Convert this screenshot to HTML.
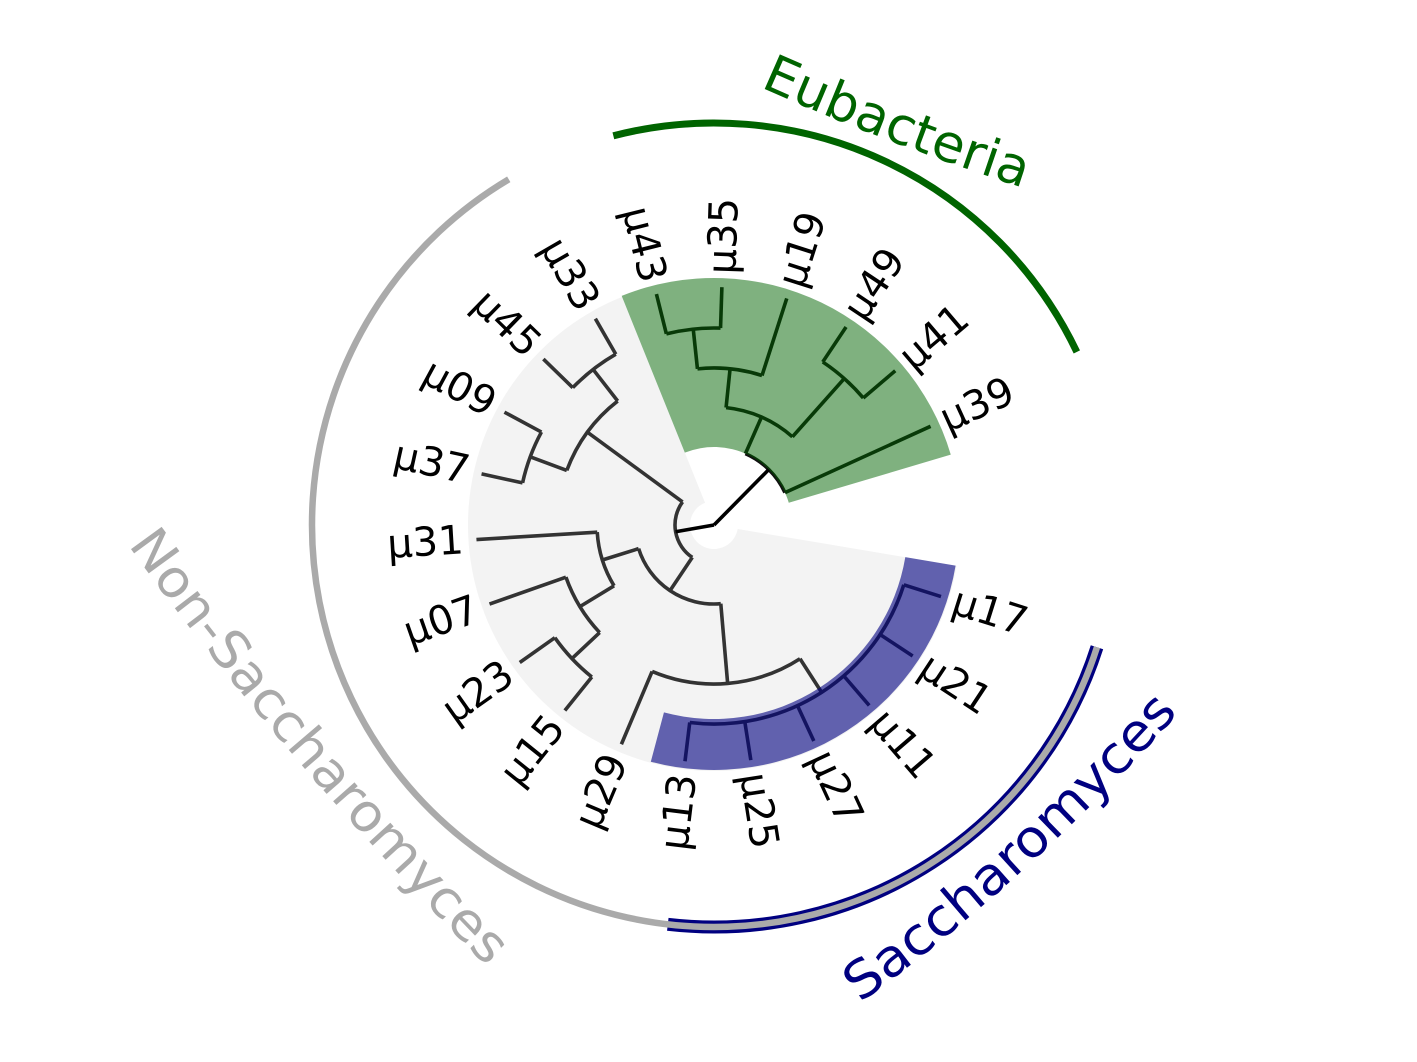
<!DOCTYPE html>
<html>
<head>
<meta charset="utf-8">
<style>
html,body{margin:0;padding:0;background:#fff;}
svg{display:block;}
text{font-family:"DejaVu Sans","Liberation Sans",sans-serif;}
</style>
</head>
<body>
<svg id="chart" width="1417" height="1062" viewBox="0 0 1417 1062" xmlns="http://www.w3.org/2000/svg">
  <g id="bg"></g>
  <g id="tree"></g>
  <g id="hl"></g>
  <g id="labels"></g>
  <g id="groups"></g>
  <defs>
    <path id="p-eub" d="M760,87 Q893,146 1030,190"/>
    <path id="p-non" d="M128,545 Q290,770 520,1000"/>
    <path id="p-sac" d="M860,1003 Q1037,874 1190,700"/>
  </defs>
  <text font-size="52" fill="#006400"><textPath href="#p-eub" textLength="282" lengthAdjust="spacingAndGlyphs">Eubacteria</textPath></text>
  <text font-size="52" fill="#aaaaaa"><textPath href="#p-non" textLength="555" lengthAdjust="spacingAndGlyphs">Non-Saccharomyces</textPath></text>
  <text font-size="52" fill="#000080"><textPath href="#p-sac" textLength="432" lengthAdjust="spacingAndGlyphs">Saccharomyces</textPath></text>
</svg>
<script>
// ---- data ----
const tipLabels = ['μ17','μ21','μ11','μ27','μ25','μ13','μ29','μ15','μ23','μ07','μ31','μ37','μ09','μ45','μ33','μ43','μ35','μ19','μ49','μ41','μ39'];
const nodeIds = ['sac','n5','n78','n4','n3','n2','n1112','n1314','n1','nn','n1516','n17','n1819','nc','eub','root'];
const nodeChildren = [
  [0,1,2,3,4,5], ['sac',6], [7,8], ['n78',9], ['n4',10], ['n5','n3'],
  [11,12], [13,14], ['n1112','n1314'], ['n2','n1'],
  [15,16], ['n1516',17], [18,19], ['n17','n1819'], ['nc',20], ['nn','eub']
];
const nodeHeights = [39,79,43,81,121,159,42,41,81,199,41,81,42,120,160,238];
const maxHeight = 238;

// ---- scales ----
const CX = 714, CY = 525, R_TIP = 238;
const A0 = 17.5, A_STEP = 15.9;
const rScale = h => R_TIP * (1 - h / maxHeight);
const aScale = i => A0 + A_STEP * i;
const rad = a => a * Math.PI / 180;
const pt = (r, a) => [CX + r * Math.cos(rad(a)), CY + r * Math.sin(rad(a))];
const NS = 'http://www.w3.org/2000/svg';

function arcPath(r, a1, a2) {
  const [x1, y1] = pt(r, a1), [x2, y2] = pt(r, a2);
  const large = Math.abs(a2 - a1) > 180 ? 1 : 0;
  const sweep = a2 > a1 ? 1 : 0;
  return `M${x1},${y1} A${r},${r} 0 ${large} ${sweep} ${x2},${y2}`;
}
function sectorPath(r1, r2, a1, a2) {
  const [x1, y1] = pt(r2, a1), [x2, y2] = pt(r2, a2);
  const [x3, y3] = pt(r1, a2), [x4, y4] = pt(r1, a1);
  const large = (a2 - a1) > 180 ? 1 : 0;
  return `M${x1},${y1} A${r2},${r2} 0 ${large} 1 ${x2},${y2} L${x3},${y3} A${r1},${r1} 0 ${large} 0 ${x4},${y4} Z`;
}
function mk(tag, attrs, parent) {
  const el = document.createElementNS(NS, tag);
  for (const k in attrs) el.setAttribute(k, attrs[k]);
  parent.appendChild(el);
  return el;
}

// ---- node layout ----
const info = {};
for (let i = 0; i < tipLabels.length; i++) info[i] = { a: aScale(i), r: R_TIP };
function lay(id) {
  if (info[id]) return info[id];
  const k = nodeIds.indexOf(id);
  const ch = nodeChildren[k].map(c => lay(c));
  const angs = ch.map(c => c.a);
  const a = (Math.min(...angs) + Math.max(...angs)) / 2;
  info[id] = { a: a, r: rScale(nodeHeights[k]), ch: ch, amin: Math.min(...angs), amax: Math.max(...angs) };
  return info[id];
}
lay('root');

// ---- backgrounds ----
const bg = document.getElementById('bg');
const half = A_STEP / 2;
const g1 = mk('path', { d: sectorPath(24, 246, aScale(0) - half, aScale(14) + half), fill: '#f3f3f3' }, bg);



// ---- tree ----
const tree = document.getElementById('tree');
const eubSet = new Set(['eub','nc','n17','n1516','n1819']);
nodeIds.forEach((id, k) => {
  const n = info[id];
  const col = id === 'root' ? '#000' : (eubSet.has(id) ? '#111' : '#333');
  if (n.r > 0.5) {
    const arc = mk('path', { d: arcPath(n.r, n.amin, n.amax), fill: 'none', stroke: col, 'stroke-width': 3.6 }, tree);
    
    
  }
  n.ch.forEach((c) => {
    const [x1, y1] = pt(n.r, c.a), [x2, y2] = pt(c.r, c.a);
    const ln = mk('line', { x1: x1, y1: y1, x2: x2, y2: y2, stroke: col, 'stroke-width': 3.6, 'stroke-linecap': 'butt' }, tree);
    
    
  });
});

// ---- overlays ----
const hl = document.getElementById('hl');
const gOv = mk('path', { d: sectorPath(78, 247, aScale(15) - half, aScale(20) + half), fill: '#006400', 'fill-opacity': 0.5 }, hl);


const bOv = mk('path', { d: sectorPath(194, 245, aScale(0) - half, aScale(5) + half), fill: '#000080', 'fill-opacity': 0.6 }, hl);



// ---- tip labels ----
const lab = document.getElementById('labels');
tipLabels.forEach((t, i) => {
  const a = aScale(i);
  const [x, y] = pt(251, a);
  const flip = a > 90 && a < 270;
  const el = mk('text', { x: x, y: y, 'font-size': 40, fill: '#000', 'dominant-baseline': 'central',
    'text-anchor': flip ? 'end' : 'start', transform: `rotate(${flip ? a + 180 : a} ${x} ${y})` }, lab);
  el.textContent = t;
  
  
});

// ---- group arcs ----
const grp = document.getElementById('groups');
const sArc = mk('path', { d: arcPath(402, 17.7, 96.6), fill: 'none', stroke: '#000080', 'stroke-width': 13 }, grp);


const nArc = mk('path', { d: arcPath(402, 17.7, 239.3), fill: 'none', stroke: '#aaaaaa', 'stroke-width': 6.5 }, grp);


const eArc = mk('path', { d: arcPath(402, 255.5, 334.5), fill: 'none', stroke: '#006400', 'stroke-width': 7 }, grp);


</script>
</body>
</html>
